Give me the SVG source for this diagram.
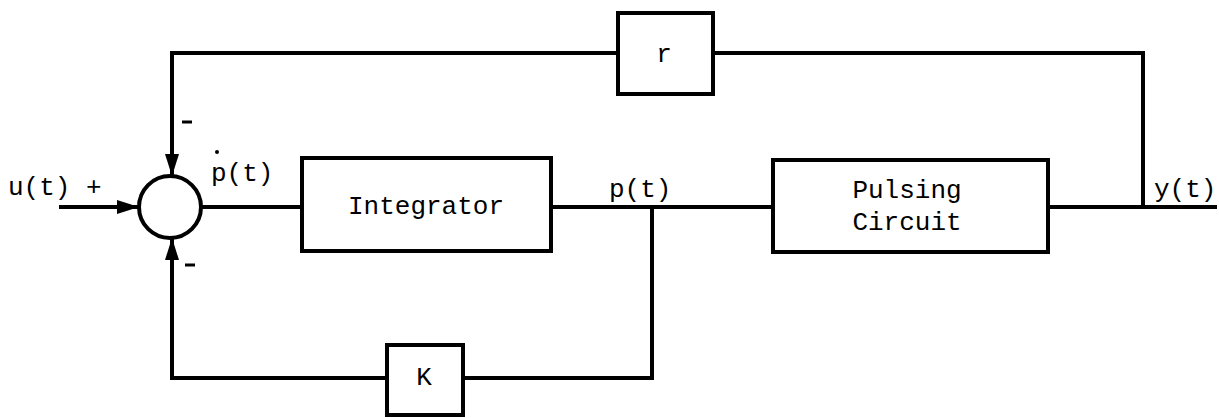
<svg xmlns="http://www.w3.org/2000/svg" width="1219" height="418" viewBox="0 0 1219 418">
<style>
.b{fill:none;stroke:#000;stroke-width:4}
.w{fill:#fff;stroke:#000;stroke-width:4}
.t{font-family:"Liberation Mono","Courier New",monospace;font-size:26px;fill:#000}
.m{text-anchor:middle}
</style>
<defs>
<marker id="ah" markerUnits="userSpaceOnUse" markerWidth="22" markerHeight="14" refX="21" refY="7" orient="auto">
<path d="M0,0 L22,7 L0,14 z" fill="#000"/>
</marker>
</defs>
<rect width="1219" height="418" fill="#fff"/>
<g id="connectors">
<line class="b" x1="59" y1="207" x2="138" y2="207" marker-end="url(#ah)"/>
<line class="b" x1="201" y1="207" x2="302" y2="207"/>
<line class="b" x1="551" y1="207" x2="773" y2="207"/>
<line class="b" x1="1048" y1="207" x2="1217" y2="207"/>
<polyline class="b" points="652,207 652,378 463,378"/>
<polyline class="b" points="387,378 172,378 172,239" marker-end="url(#ah)"/>
<polyline class="b" points="1143,207 1143,53 713,53"/>
<polyline class="b" points="618,53 172,53 172,175" marker-end="url(#ah)"/>
</g>
<g id="sum">
<circle class="w" cx="170" cy="207" r="31"/>
<text class="t" x="8" y="195">u(t) +</text>
<text class="t" x="211" y="181">p(t)</text>
<circle cx="217" cy="152" r="2" fill="#000"/>
<line x1="182" y1="122" x2="192" y2="122" stroke="#000" stroke-width="3"/>
<line x1="185" y1="265" x2="195" y2="265" stroke="#000" stroke-width="3"/>
</g>
<g id="integrator">
<rect class="w" x="302" y="158" width="249" height="93"/>
<text class="t m" x="426" y="214">Integrator</text>
</g>
<g id="pt-label">
<text class="t" x="609" y="197">p(t)</text>
</g>
<g id="pulsing">
<rect class="w" x="773" y="160" width="275" height="92"/>
<text class="t m" x="907" y="198">Pulsing</text>
<text class="t m" x="907" y="230">Circuit</text>
</g>
<g id="yt-label">
<text class="t" x="1154" y="197">y(t)</text>
</g>
<g id="r">
<rect class="w" x="618" y="13" width="95" height="81"/>
<text class="t m" x="664" y="62">r</text>
</g>
<g id="K">
<rect class="w" x="387" y="345" width="76" height="70"/>
<text class="t m" x="424" y="385">K</text>
</g>
</svg>
